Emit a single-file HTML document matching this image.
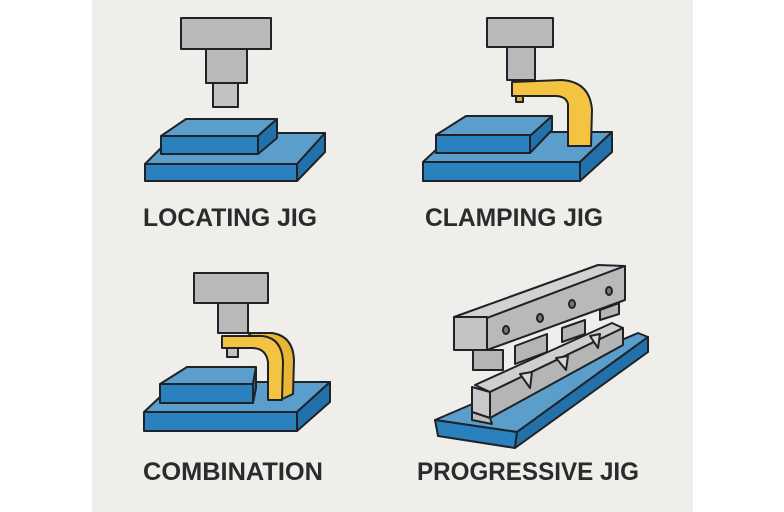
<!DOCTYPE html>
<html><head><meta charset="utf-8"><style>
html,body{margin:0;padding:0;background:#fff;}
svg{display:block}
text{font-family:"Liberation Sans",sans-serif;font-weight:bold;fill:#2b2b2b;}
</style></head><body>
<svg width="784" height="512" viewBox="0 0 784 512" xmlns="http://www.w3.org/2000/svg">
<rect x="0" y="0" width="784" height="512" fill="#fff"/>
<rect x="92" y="0" width="601" height="512" fill="#efeeeb"/>
<g stroke="#1f2328" stroke-width="2" stroke-linejoin="round">
<!-- LOCATING -->
<rect x="181" y="18" width="90" height="31" fill="#b9b9b9"/>
<rect x="206" y="49" width="41" height="34" fill="#b9b9b9"/>
<rect x="213" y="83" width="25" height="24" fill="#c2c2c2"/>
<polygon points="145,164 176,133 325,133 297,164" fill="#5c9ecb"/>
<polygon points="297,164 325,133 325,152 297,181" fill="#2371aa"/>
<rect x="145" y="164" width="152" height="17" fill="#2b80be"/>
<polygon points="161,136 186,119 277,119 258,136" fill="#5c9ecb"/>
<polygon points="258,136 277,119 277,138 258,154" fill="#2371aa"/>
<rect x="161" y="136" width="97" height="18" fill="#2b80be"/>
<!-- CLAMPING -->
<rect x="487" y="18" width="66" height="29" fill="#b9b9b9"/>
<rect x="507" y="47" width="28" height="33" fill="#b9b9b9"/>
<polygon points="423,162 455,132 612,132 580,162" fill="#5c9ecb"/>
<polygon points="580,162 612,132 612,152 580,181" fill="#2371aa"/>
<rect x="423" y="162" width="157" height="19" fill="#2b80be"/>
<polygon points="436,135 466,116 552,116 530,136" fill="#5c9ecb"/>
<polygon points="530,136 552,116 552,130 530,153" fill="#2371aa"/>
<rect x="436" y="135" width="94" height="18" fill="#2b80be"/>
<path d="M512,82 L562,80 Q590,82 592,110 L591,146 L568,146 L568,104 Q566,96 555,96 L512,96 Z" fill="#f5c342"/>
<rect x="516" y="96" width="7" height="6" fill="#e0b030"/>
<!-- COMBINATION -->
<rect x="194" y="273" width="74" height="30" fill="#b9b9b9"/>
<rect x="218" y="303" width="30" height="30" fill="#b9b9b9"/>
<rect x="227" y="346" width="11" height="11" fill="#c2c2c2"/>
<polygon points="144,412 176,382 330,382 297,412" fill="#5c9ecb"/>
<polygon points="297,412 330,382 330,402 297,431" fill="#2371aa"/>
<rect x="144" y="412" width="153" height="19" fill="#2b80be"/>
<polygon points="160,384 187,367 256,367 253,384" fill="#5c9ecb"/>
<polygon points="253,384 256,367 256,388 253,403" fill="#2371aa"/>
<rect x="160" y="384" width="93" height="19" fill="#2b80be"/>
<path d="M248,333 L272,333 Q293,336 294,360 L293,394 L280,400 L280,360 Q278,346 262,346 Z" fill="#e8b534"/>
<path d="M222,336 L262,336 Q282,338 283,362 L282,400 L268,400 L268,362 Q266,348 252,348 L222,348 Z" fill="#f5c342"/>
<!-- PROGRESSIVE -->
<polygon points="435,420 638,333 648,337 517,432" fill="#5c9ecb"/>
<polygon points="435,420 517,432 515,448 438,436" fill="#2b80be"/>
<polygon points="517,432 648,337 648,352 515,448" fill="#2371aa"/>
<polygon points="475,385 612,323 623,328 490,392" fill="#cfcfcf"/>
<polygon points="490,392 623,328 623,345 490,418" fill="#b5b5b5"/>
<polygon points="472,387 490,392 490,418 472,412" fill="#c9c9c9"/>
<polygon points="472,412 490,418 492,424 472,420" fill="#bdbdbd"/>
<polygon points="520,374 532,372 530,388" fill="#d8d8d8"/>
<polygon points="556,358 568,356 566,370" fill="#d8d8d8"/>
<polygon points="590,336 600,334 598,348" fill="#d8d8d8"/>
<polygon points="454,317 598,265 625,266 487,318" fill="#d2d2d2"/>
<rect x="454" y="317" width="33" height="33" fill="#c4c4c4"/>
<polygon points="487,318 625,266 625,300 487,350" fill="#b9b9b9"/>
<rect x="473" y="350" width="30" height="20" fill="#b5b5b5"/>
<polygon points="515,346 547,334 547,352 515,364" fill="#b5b5b5"/>
<polygon points="562,328 585,320 585,334 562,342" fill="#b5b5b5"/>
<polygon points="600,310 619,303 619,314 600,320" fill="#b5b5b5"/>
<ellipse cx="506" cy="330" rx="3" ry="4" fill="#777"/>
<ellipse cx="540" cy="318" rx="3" ry="4" fill="#777"/>
<ellipse cx="572" cy="304" rx="3" ry="4" fill="#777"/>
<ellipse cx="609" cy="291" rx="3" ry="4" fill="#777"/>
</g>
<text x="143" y="226" font-size="25" textLength="174" lengthAdjust="spacingAndGlyphs">LOCATING JIG</text>
<text x="425" y="226" font-size="25" textLength="178" lengthAdjust="spacingAndGlyphs">CLAMPING JIG</text>
<text x="143" y="480" font-size="25" textLength="180" lengthAdjust="spacingAndGlyphs">COMBINATION</text>
<text x="417" y="480" font-size="25" textLength="222" lengthAdjust="spacingAndGlyphs">PROGRESSIVE JIG</text>
</svg>
</body></html>
